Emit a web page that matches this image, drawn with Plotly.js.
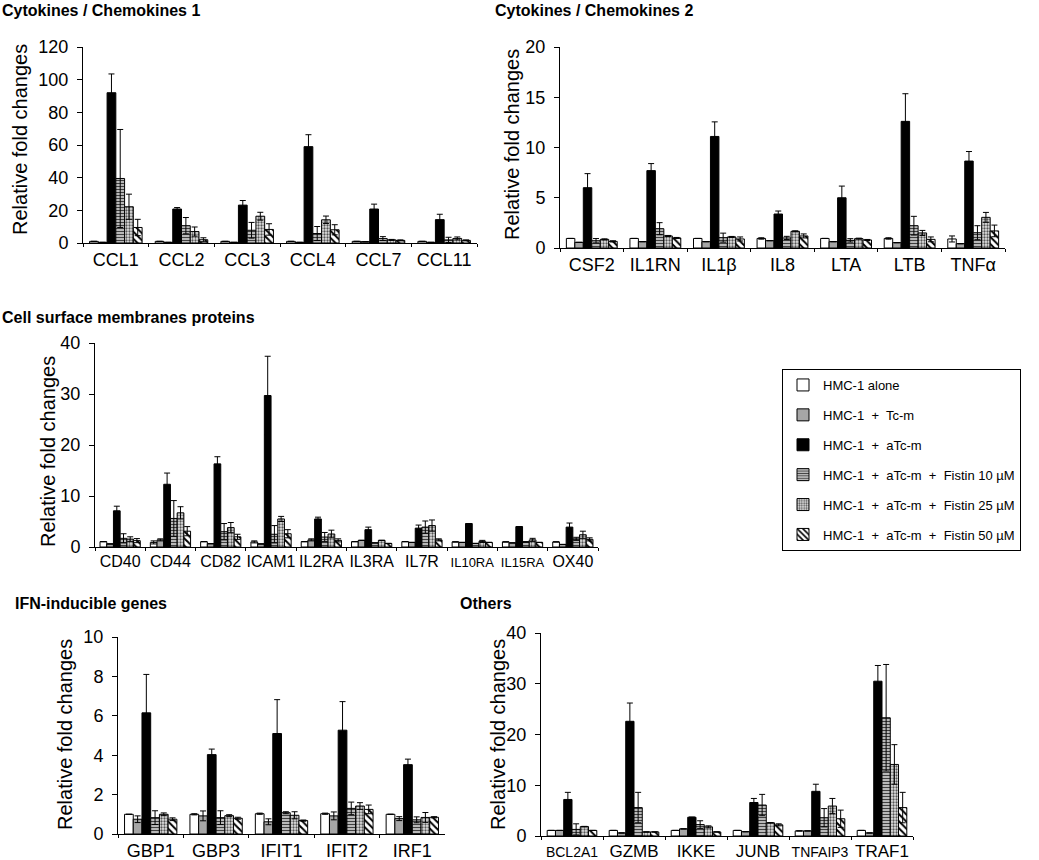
<!DOCTYPE html>
<html>
<head>
<meta charset="utf-8">
<script src="https://cdn.plot.ly/plotly-3.0.1.min.js"></script>
<style>html,body{margin:0;padding:0;background:#fff;}#chart{width:1039px;height:860px;}</style>
</head>
<body>
<div id="chart"></div>
<script>
// ---- Series names ----
const seriesNames = [
  "HMC-1 alone",
  "HMC-1\u00a0 +\u00a0 Tc-m",
  "HMC-1\u00a0 +\u00a0 aTc-m",
  "HMC-1\u00a0 +\u00a0 aTc-m\u00a0 +\u00a0 Fistin 10 µM",
  "HMC-1\u00a0 +\u00a0 aTc-m\u00a0 +\u00a0 Fistin 25 µM",
  "HMC-1\u00a0 +\u00a0 aTc-m\u00a0 +\u00a0 Fistin 50 µM"
];

// ---- Panel 1: Cytokines / Chemokines 1 ----
const p1Cats = ["CCL1", "CCL2", "CCL3", "CCL4", "CCL7", "CCL11"];
const p1Vals = [
  [1, 1, 1, 1, 1, 1],
  [0.4, 0.4, 0.4, 0.4, 0.8, 0.4],
  [92, 20.8, 23.2, 59, 20.8, 14.3],
  [39.5, 10.6, 7.8, 5.8, 2.7, 1.9],
  [22.2, 7, 16.4, 14.2, 1.9, 2.8],
  [9.5, 2, 8.3, 8.1, 1.6, 1.6]
];
const p1Errs = [
  [0, 0, 0, 0, 0, 0],
  [0, 0, 0, 0, 0, 0],
  [11.5, 0.9, 2.8, 7.3, 3, 3.3],
  [30, 5, 4.8, 4.3, 1.2, 1.6],
  [7.7, 2.8, 2.4, 2.3, 0.3, 0.9],
  [5, 1.2, 3.5, 3.1, 0.3, 0.3]
];

// ---- Panel 2: Cytokines / Chemokines 2 ----
const p2Cats = ["CSF2", "IL1RN", "IL1β", "IL8", "LTA", "LTB", "TNFα"];
const p2Vals = [
  [0.95, 0.95, 0.95, 0.95, 0.95, 0.95, 0.9],
  [0.56, 0.63, 0.63, 0.73, 0.63, 0.53, 0.43],
  [6.0, 7.7, 11.1, 3.38, 5.0, 12.6, 8.65],
  [0.72, 1.92, 1.03, 1.0, 0.76, 2.22, 1.52],
  [0.86, 1.2, 1.1, 1.66, 0.93, 1.5, 3.05],
  [0.66, 1.0, 0.9, 1.2, 0.8, 0.86, 1.7]
];
const p2Errs = [
  [0, 0, 0, 0.07, 0, 0.07, 0.3],
  [0, 0, 0, 0, 0, 0, 0],
  [1.4, 0.7, 1.45, 0.3, 1.16, 2.75, 0.95],
  [0.22, 0.6, 0.45, 0.16, 0.17, 0.93, 0.7],
  [0.05, 0.05, 0.05, 0.05, 0.05, 0.25, 0.49],
  [0.06, 0.05, 0.2, 0.2, 0.05, 0.24, 0.58]
];

// ---- Panel 3: Cell surface membranes proteins ----
const p3Cats = ["CD40", "CD44", "CD82", "ICAM1", "IL2RA", "IL3RA", "IL7R", "IL10RA", "IL15RA", "OX40"];
const p3Vals = [
  [1.05, 0.9, 1.05, 1.0, 1.05, 1.05, 1.05, 1.0, 1.0, 1.0],
  [0.6, 1.4, 0.65, 0.6, 1.4, 1.3, 0.9, 0.9, 0.8, 0.5],
  [7.1, 12.3, 16.3, 29.7, 5.5, 3.4, 3.7, 4.6, 4.0, 3.9],
  [1.7, 5.6, 3.0, 2.5, 1.95, 0.8, 3.9, 0.7, 1.0, 1.6],
  [1.55, 6.7, 3.8, 5.5, 2.55, 1.3, 4.2, 1.1, 1.4, 2.4],
  [1.25, 3.1, 2.0, 2.6, 1.3, 0.7, 1.4, 0.9, 0.9, 1.5]
];
const p3Errs = [
  [0, 0.3, 0, 0.2, 0, 0, 0, 0, 0, 0],
  [0, 0.2, 0, 0, 0.2, 0, 0, 0, 0, 0],
  [0.9, 2.2, 1.4, 7.7, 0.35, 0.5, 0.6, 0, 0, 0.8],
  [0.9, 3.5, 1.6, 1.7, 0.9, 0, 1.2, 0, 0, 0.3],
  [0.45, 1.2, 1.0, 0.5, 0.75, 0, 1.1, 0.2, 0.3, 0.7],
  [0.4, 0.9, 0.5, 0.8, 0.3, 0, 0.2, 0, 0, 0.3]
];

// ---- Panel 4: IFN-inducible genes ----
const p4Cats = ["GBP1", "GBP3", "IFIT1", "IFIT2", "IRF1"];
const p4Vals = [
  [1.0, 1.0, 1.03, 1.03, 1.0],
  [0.75, 0.92, 0.62, 0.92, 0.78],
  [6.15, 4.03, 5.1, 5.27, 3.52],
  [0.83, 0.83, 1.08, 1.3, 0.72],
  [1.0, 0.93, 0.95, 1.42, 0.84],
  [0.75, 0.8, 0.68, 1.25, 0.85]
];
const p4Errs = [
  [0, 0.03, 0.03, 0.03, 0],
  [0.17, 0.25, 0.15, 0.2, 0.1],
  [1.95, 0.28, 1.72, 1.45, 0.28],
  [0.35, 0.35, 0.05, 0.32, 0.15],
  [0.07, 0.05, 0.18, 0.17, 0.25],
  [0.07, 0.05, 0.03, 0.22, 0.03]
];

// ---- Panel 5: Others ----
const p5Cats = ["BCL2A1", "GZMB", "IKKE", "JUNB", "TNFAIP3", "TRAF1"];
const p5Vals = [
  [1.1, 1.1, 1.1, 1.1, 1.0, 1.1],
  [1.1, 0.6, 1.4, 0.85, 1.0, 0.6],
  [7.2, 22.6, 3.7, 6.6, 8.8, 30.5],
  [1.3, 5.6, 2.25, 6.1, 3.6, 23.3],
  [1.85, 0.8, 1.8, 2.6, 5.9, 14.1],
  [1.1, 0.8, 0.8, 2.2, 3.4, 5.6]
];
const p5Errs = [
  [0, 0, 0, 0, 0, 0],
  [0, 0, 0, 0, 0, 0],
  [1.4, 3.6, 0, 0.8, 1.4, 3.1],
  [1.1, 3.0, 0.75, 2.1, 1.8, 10.5],
  [0.05, 0, 0.2, 0, 1.5, 3.9],
  [0, 0, 0, 0.2, 1.7, 3.0]
];

const panelTitles = ["Cytokines / Chemokines 1", "Cytokines / Chemokines 2",
  "Cell surface membranes proteins", "IFN-inducible genes", "Others"];
const yTitle = "Relative fold changes";
const smallLabels = ["IL10RA", "IL15RA", "BCL2A1", "TNFAIP3"];

// ---- Styling / layout ----
const W = 1039, H = 860;
const FONT = "Liberation Sans, Arial, sans-serif";
const fx = x => x / W;
const fy = y => 1 - y / H;

const markerStyles = [
  {color: "#ffffff"},
  {color: "#a6a6a6"},
  {color: "#000000"},
  {color: "#b0b0b0", pattern: {shape: "-", size: 3, solidity: 0.35, fgcolor: "#404040", bgcolor: "#b8b8b8", fillmode: "replace"}},
  {color: "#d0d0d0", pattern: {shape: ".", size: 3, solidity: 0.45, fgcolor: "#555555", bgcolor: "#e4e4e4", fillmode: "replace"}},
  {color: "#ffffff", pattern: {shape: "\\", size: 5, solidity: 0.4, fgcolor: "#000000", bgcolor: "#ffffff", fillmode: "replace"}}
];

const panels = [
  {cats: p1Cats, vals: p1Vals, errs: p1Errs, x: [83, 477], y: [243, 47], range: [0, 120], dtick: 20,
   title: [0, 10], ytitle: [7, 140], xfont: 18, small: 13},
  {cats: p2Cats, vals: p2Vals, errs: p2Errs, x: [560, 1005], y: [248, 47], range: [0, 20], dtick: 5,
   title: [493, 10], ytitle: [499, 145], xfont: 18, small: 13},
  {cats: p3Cats, vals: p3Vals, errs: p3Errs, x: [95, 598], y: [547, 343], range: [0, 40], dtick: 10,
   title: [0, 318], ytitle: [35, 452], xfont: 16, small: 13},
  {cats: p4Cats, vals: p4Vals, errs: p4Errs, x: [118, 445], y: [834, 637], range: [0, 10], dtick: 2,
   title: [13, 603], ytitle: [52, 735], xfont: 18, small: 13},
  {cats: p5Cats, vals: p5Vals, errs: p5Errs, x: [541, 913], y: [836, 633], range: [0, 40], dtick: 10,
   title: [458, 603], ytitle: [485, 735], xfont: 17, small: 14}
];

const traces = [];
const layout = {
  width: W, height: H,
  margin: {l: 0, r: 0, t: 0, b: 0},
  paper_bgcolor: "#ffffff", plot_bgcolor: "rgba(0,0,0,0)",
  barmode: "group", bargap: 0.2, bargroupgap: 0,
  font: {family: FONT, color: "#000000", size: 16},
  showlegend: true,
  legend: {
    x: fx(782), y: fy(369), xanchor: "left", yanchor: "top",
    bordercolor: "#000000", borderwidth: 1, bgcolor: "#ffffff",
    font: {family: "Liberation Sans Narrow, Liberation Sans, Arial, sans-serif", size: 13},
    tracegroupgap: 10, traceorder: "grouped", itemwidth: 30
  },
  annotations: []
};

panels.forEach((p, i) => {
  const n = i + 1;
  const xa = "x" + (n === 1 ? "" : n), ya = "y" + (n === 1 ? "" : n);
  for (let s = 0; s < 6; s++) {
    traces.push({
      type: "bar", name: seriesNames[s], x: p.cats, y: p.vals[s],
      xaxis: xa, yaxis: ya,
      legendgroup: "s" + s, showlegend: i === 0,
      marker: Object.assign({line: {color: "#000000", width: 1}}, markerStyles[s]),
      error_y: {type: "data", array: p.errs[s], symmetric: true, color: "#000000", thickness: 1, width: 3, visible: true},
      hoverinfo: "x+y+name"
    });
  }
  layout["xaxis" + (n === 1 ? "" : n)] = {
    domain: [fx(p.x[0]), fx(p.x[1])], anchor: ya, type: "category",
    showline: true, linecolor: "#000000", linewidth: 1,
    ticks: "outside", tickson: "boundaries", ticklen: 3, tickcolor: "#000000",
    showgrid: false, zeroline: false, tickangle: 0, automargin: false,
    tickvals: p.cats,
    ticktext: p.cats.map(c => smallLabels.includes(c) ? '<span style="font-size:' + p.small + 'px">' + c + '</span>' : c),
    tickfont: {family: FONT, size: p.xfont, color: "#000000"}, fixedrange: true
  };
  layout["yaxis" + (n === 1 ? "" : n)] = {
    domain: [fy(p.y[0]), fy(p.y[1])], anchor: xa,
    range: p.range, dtick: p.dtick, tick0: 0,
    showline: true, linecolor: "#000000", linewidth: 1,
    ticks: "outside", ticklen: 5, tickcolor: "#000000", ticklabelstandoff: 5,
    showgrid: false, zeroline: false, automargin: false,
    tickfont: {family: FONT, size: 18, color: "#000000"}, fixedrange: true
  };
  layout.annotations.push({
    xref: "paper", yref: "paper", x: fx(p.title[0]), y: fy(p.title[1]),
    xanchor: "left", yanchor: "middle", showarrow: false,
    text: "<b>" + panelTitles[i] + "</b>",
    font: {family: FONT, size: 16, color: "#000000"}
  });
  layout.annotations.push({
    xref: "paper", yref: "paper", x: fx(p.ytitle[0]), y: fy(p.ytitle[1]),
    xanchor: "left", yanchor: "middle", showarrow: false, textangle: -90,
    text: yTitle, font: {family: FONT, size: 20, color: "#000000"}
  });
});

Plotly.newPlot("chart", traces, layout, {displayModeBar: false, staticPlot: true});
</script>
</body>
</html>
